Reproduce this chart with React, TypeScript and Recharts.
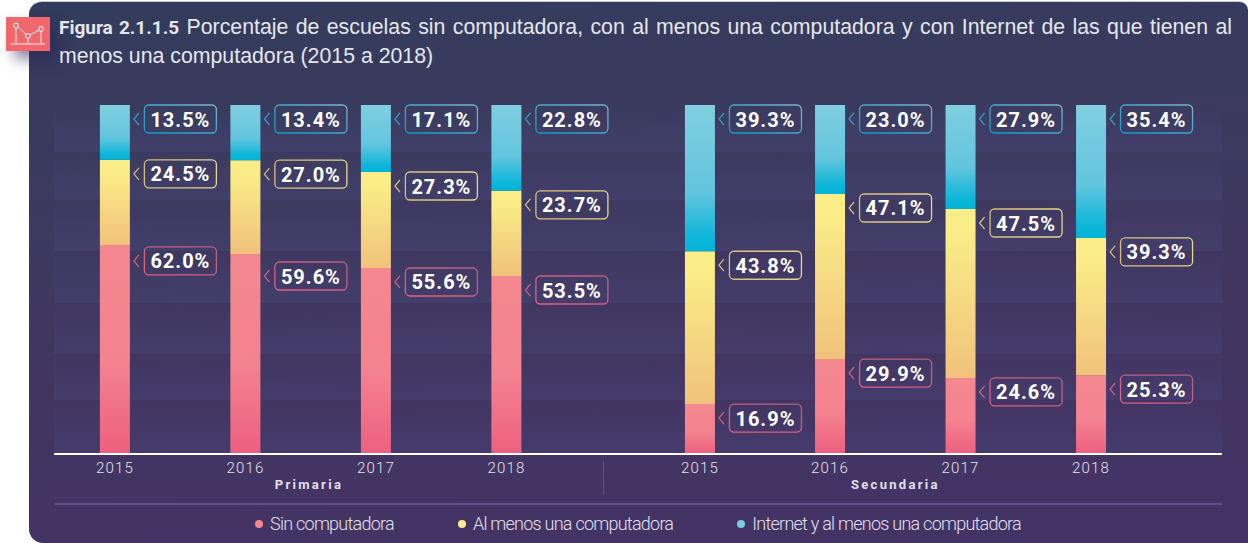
import { BarChart, Bar, XAxis, YAxis, Legend, LabelList, ReferenceArea } from "recharts";

// position of each year along the axis (the two school levels are split by a wider gap)
const slots = [0, 1, 2, 3, 4.483, 5.48, 6.48, 7.48];
const years = ["2015", "2016", "2017", "2018", "2015", "2016", "2017", "2018"];
const levels = ["Primaria", "Secundaria"];
const levelSlots = [1.487, 5.98];

// printed percentages
const sinLabels = ["62.0%", "59.6%", "55.6%", "53.5%", "16.9%", "29.9%", "24.6%", "25.3%"];
const alMenosLabels = ["24.5%", "27.0%", "27.3%", "23.7%", "43.8%", "47.1%", "47.5%", "39.3%"];
const internetLabels = ["13.5%", "13.4%", "17.1%", "22.8%", "39.3%", "23.0%", "27.9%", "35.4%"];

// segment heights as drawn in the picture, which differ a little from the printed numbers
const sinValues = [59.9, 57.3, 53.3, 51.0, 14.3, 27.2, 21.8, 22.6];
const alMenosValues = [24.4, 26.9, 27.5, 24.4, 43.8, 47.3, 48.4, 39.3];
const internetValues = [15.7, 15.8, 19.2, 24.6, 41.9, 25.5, 29.8, 38.1];

const bandEdges = [100, 86.5, 72.8, 58.2, 43.3, 28.7, 15.5, 0];

const data = slots.map((slot, i) => ({
  slot,
  sin: sinValues[i],
  alMenos: alMenosValues[i],
  internet: internetValues[i],
  sinLabel: sinLabels[i],
  alMenosLabel: alMenosLabels[i],
  internetLabel: internetLabels[i],
}));

const X_DOMAIN: [number, number] = [-0.467, 8.483];

const dotColors: Record<string, string> = { sin: "#f4858e", alMenos: "#fbed8b", internet: "#7ccce0" };
// the pink label sits lower than its segment top on the first two primaria bars
const sinNudge = [2, 8, 0, 0, 0, 0, 0, 0];

const makeLabel = (border: string, chevron: string, nudge?: number[]) => (props: any) => {
  const { x, y, width, value, index } = props;
  const left = x + width + 14;
  const top = y + (nudge ? nudge[index] : 0);
  const mid = top + 14;
  return (
    <g>
      <path d={`M${left - 5} ${mid - 6} L${left - 10} ${mid} L${left - 5} ${mid + 6}`} fill="none" stroke={chevron} strokeWidth={1.2} />
      <rect x={left + 0.5} y={top} width={72} height={28} rx={4.5} fill="none" stroke={`url(#${border})`} strokeWidth={1.3} />
      <text
        x={left + 36.5}
        y={mid + 7.5}
        textAnchor="middle"
        fill="#ffffff"
        fontFamily="Roboto, sans-serif"
        fontWeight={700}
        fontSize={20}
        letterSpacing={1}
      >
        {value}
      </text>
    </g>
  );
};

const renderLegend = (props: any) => (
  <div
    style={{
      display: "flex",
      justifyContent: "center",
      gap: 64,
      fontFamily: "Roboto, sans-serif",
      fontWeight: 300,
      fontSize: 18,
      letterSpacing: -0.75,
      color: "#e2e0ec",
    }}
  >
    {props.payload.map((p: any) => (
      <span key={p.dataKey} style={{ display: "flex", alignItems: "center", gap: 7 }}>
        <span style={{ width: 8, height: 8, borderRadius: 4, background: dotColors[p.dataKey] }} />
        {p.value}
      </span>
    ))}
  </div>
);

export default function App() {
  return (
    <div style={{ position: "absolute", left: 0, top: 0, width: 1248, height: 543, overflow: "hidden", background: "#fff" }}>
      <div
        style={{
          position: "absolute",
          left: 29,
          top: 1,
          width: 1219,
          height: 542,
          boxSizing: "border-box",
          borderTop: "1px solid #c9cad2",
          borderRadius: "13px 9px 0 14px",
          background: "linear-gradient(176deg, #323c5b 0%, #3c3a5f 30%, #423561 65%, #433366 100%)",
        }}
      />

      <svg width={44} height={34} style={{ position: "absolute", left: 6, top: 17, boxShadow: "8px 8px 14px rgba(45,35,90,0.55)" }}>
        <rect width={44} height={34} fill="#f0676d" />
        <g fill="none" stroke="#fff" strokeWidth={1}>
          <path d="M10 8.5 L22 19 M22 19 L35 12 M10 8.5 V26 M35 12 V26 M22 19 V26 M5 27 H39" opacity={0.9} />
          <circle cx={10} cy={8.5} r={2.4} fill="#f0676d" />
          <circle cx={22} cy={19} r={2.4} fill="#f0676d" />
          <circle cx={35} cy={12} r={2.4} fill="#f0676d" />
        </g>
      </svg>

      <div
        style={{
          position: "absolute",
          left: 59,
          top: 13,
          width: 1173,
          fontFamily: "'Liberation Sans', sans-serif",
          fontSize: 21.3,
          lineHeight: "29px",
          color: "#e6e6ee",
        }}
      >
        <div style={{ textAlign: "justify", textAlignLast: "justify" }}>
          <span style={{ fontFamily: "Roboto, sans-serif", fontWeight: 700, fontSize: 19 }}>Figura 2.1.1.5</span> Porcentaje de escuelas sin
          computadora, con al menos una computadora y con Internet de las que tienen al
        </div>
        <div>menos una computadora (2015 a 2018)</div>
      </div>

      <div style={{ position: "absolute", left: 603, top: 461, width: 1, height: 34, background: "#5d5280" }} />
      <div style={{ position: "absolute", left: 55, top: 503, width: 1167, height: 1.5, background: "#5d4f85" }} />

      <div style={{ position: "absolute", left: 0, top: 0 }}>
        <BarChart width={1248} height={543} data={data} margin={{ top: 105, right: 26, bottom: 51, left: 54 }} barSize={30}>
          <defs>
            <linearGradient id="gradSin" x1="0" y1="0" x2="0" y2="1">
              <stop offset="0" stopColor="#f4878f" />
              <stop offset="0.55" stopColor="#f3838f" />
              <stop offset="1" stopColor="#ed5f80" />
            </linearGradient>
            <linearGradient id="gradAlMenos" x1="0" y1="0" x2="0" y2="1">
              <stop offset="0" stopColor="#fbee88" />
              <stop offset="0.15" stopColor="#faec87" />
              <stop offset="1" stopColor="#f1c27b" />
            </linearGradient>
            <linearGradient id="gradInternet" x1="0" y1="0" x2="0" y2="1">
              <stop offset="0" stopColor="#80cee0" />
              <stop offset="0.6" stopColor="#62c5de" />
              <stop offset="0.9" stopColor="#0eb6d9" />
              <stop offset="1" stopColor="#00b4d8" />
            </linearGradient>
            <linearGradient id="band" x1="0" y1="0" x2="0" y2="1">
              <stop offset="0" stopColor="#4a4c84" stopOpacity={0} />
              <stop offset="1" stopColor="#4a4c84" stopOpacity={0.3} />
            </linearGradient>
            <linearGradient id="borderInternet" x1="0" y1="1" x2="1" y2="0">
              <stop offset="0" stopColor="#0a9cc4" />
              <stop offset="1" stopColor="#7db4cc" />
            </linearGradient>
            <linearGradient id="borderAlMenos" x1="0" y1="0" x2="1" y2="0">
              <stop offset="0" stopColor="#d6bd7e" />
              <stop offset="1" stopColor="#e9d688" />
            </linearGradient>
            <linearGradient id="borderSin" x1="0" y1="1" x2="1" y2="0">
              <stop offset="0" stopColor="#e65f80" />
              <stop offset="1" stopColor="#b15f80" />
            </linearGradient>
          </defs>

          {bandEdges.slice(1).map((edge, i) => (
            <ReferenceArea
              key={edge}
              x1={X_DOMAIN[0]}
              x2={X_DOMAIN[1]}
              y1={edge}
              y2={bandEdges[i]}
              fill="url(#band)"
              fillOpacity={1}
              stroke="none"
            />
          ))}

          <XAxis
            dataKey="slot"
            type="number"
            domain={X_DOMAIN}
            allowDataOverflow
            ticks={slots}
            tickFormatter={(_v: number, i: number) => years[i]}
            interval={0}
            height={18}
            axisLine={{ stroke: "#ffffff", strokeWidth: 2 }}
            tickLine={false}
            tick={{ fontSize: 15, fontWeight: 300, fill: "#e2e0ec", fontFamily: "Roboto, sans-serif", letterSpacing: 1.2 }}
          />
          <XAxis
            xAxisId="level"
            dataKey="slot"
            type="number"
            domain={X_DOMAIN}
            allowDataOverflow
            ticks={levelSlots}
            tickFormatter={(_v: number, i: number) => levels[i]}
            interval={0}
            height={20}
            axisLine={false}
            tickLine={false}
            tick={{ fontSize: 13, fontWeight: 700, fill: "#e2e0ec", fontFamily: "Roboto, sans-serif", letterSpacing: 2.3 }}
          />
          <YAxis hide domain={[0, 100]} />

          <Bar dataKey="sin" name="Sin computadora" stackId="a" fill="url(#gradSin)" isAnimationActive={false}>
            <LabelList dataKey="sinLabel" content={makeLabel("borderSin", "#d8617f", sinNudge)} />
          </Bar>
          <Bar dataKey="alMenos" name="Al menos una computadora" stackId="a" fill="url(#gradAlMenos)" isAnimationActive={false}>
            <LabelList dataKey="alMenosLabel" content={makeLabel("borderAlMenos", "#d9bd7a")} />
          </Bar>
          <Bar dataKey="internet" name="Internet y al menos una computadora" stackId="a" fill="url(#gradInternet)" isAnimationActive={false}>
            <LabelList dataKey="internetLabel" content={makeLabel("borderInternet", "#2f9fc2")} />
          </Bar>

          <Legend
            layout="horizontal"
            align="center"
            verticalAlign="middle"
            itemSorter={null}
            content={renderLegend}
            wrapperStyle={{ left: 0, top: 513, width: 1276 }}
          />
        </BarChart>
      </div>
    </div>
  );
}
